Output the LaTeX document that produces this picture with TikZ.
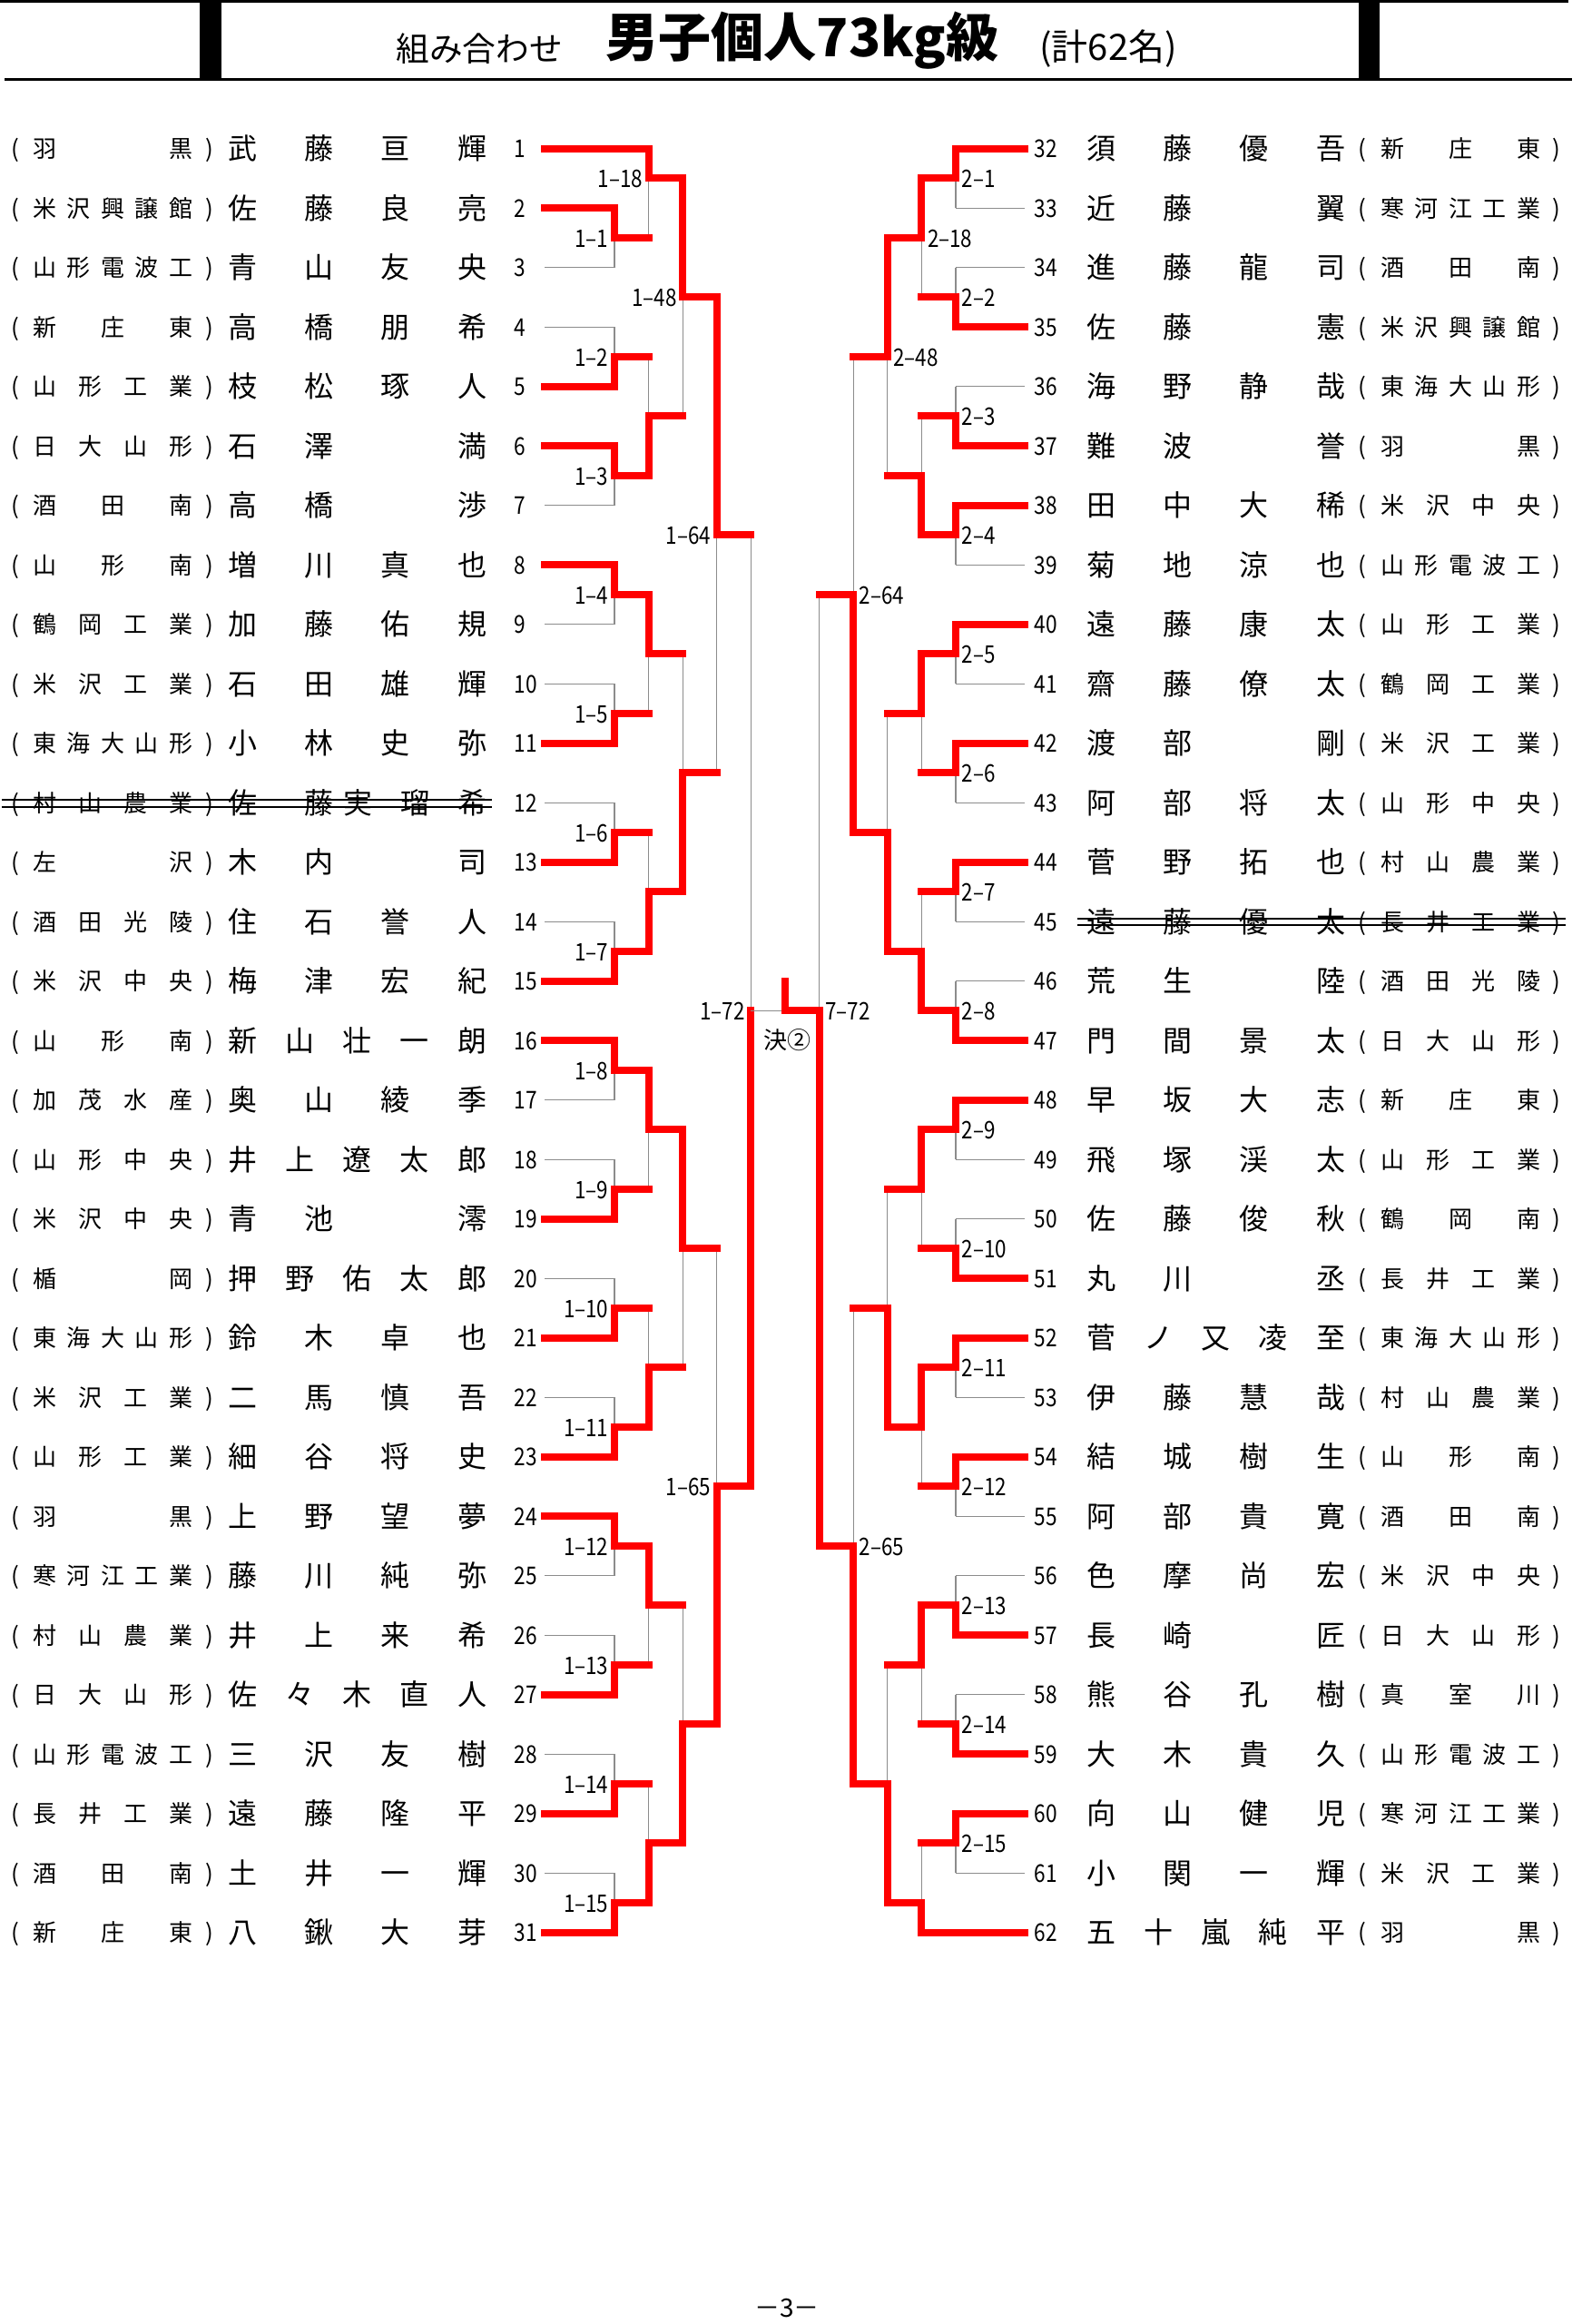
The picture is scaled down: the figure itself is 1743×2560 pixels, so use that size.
\documentclass[tikz,border=0pt]{standalone}
\usepackage{fontspec}
\newfontfamily\jp{Noto Sans CJK JP}
\newfontfamily\jpnarrow[FakeStretch=0.84]{Noto Sans CJK JP}
\definecolor{winred}{RGB}{255,0,0}
\definecolor{lossgray}{RGB}{140,140,140}

% place a list of characters evenly from x=#2 to x=#3
\newcommand\spreadrow[6]{%
  \def\nitems{0}%
  \foreach \ch in #1 {\pgfmathtruncatemacro\tmpn{\nitems+1}\global\let\nitems\tmpn}%
  \foreach \ch [count=\k] in #1 {%
    \pgfmathsetmacro\xx{#2+(#3-#2)*(\k-1)/(\nitems-1)}%
    \node[#5] (#6\k) at (\xx,{#4}) {\ch};}%
}

\tikzset{
  declare function={rowy(\q)=163.6+(\q-1)*65.5;},
  seg0/.style={draw=lossgray,line width=0.35pt},
  seg1/.style={draw=winred,line width=2.4pt,line cap=rect},
  strike/.style={line width=0.8pt},
  namech/.style={inner sep=0pt,font=\jp\fontsize{9.6}{11}\selectfont,text height=8.4pt,text depth=1.2pt},
  schch/.style={inner sep=0pt,font=\jp\fontsize{7.8}{9}\selectfont,text height=6.9pt,text depth=0.9pt},
  numtxt/.style={inner sep=0pt,font=\jpnarrow\fontsize{8.1}{9}\selectfont,text height=7.1pt,text depth=1pt},
  labtxt/.style={inner sep=0pt,font=\jpnarrow\fontsize{8}{9}\selectfont,text height=7pt,text depth=0.9pt}
}

\begin{document}
\begin{tikzpicture}[x=0.3pt,y=-0.3pt]
\useasboundingbox (0,0) rectangle (1743,2560);

% header
\fill (0,0) rectangle (1728,3);
\fill (5,86) rectangle (1732,89);
\fill (220,0) rectangle (244,88);
\fill (1497,0) rectangle (1520,88);
\node[inner sep=0pt,font=\jp\fontsize{11}{12}\selectfont] (ttl1) at (528,54) {組み合わせ};
\node[inner sep=0pt,font=\jp\bfseries\fontsize{17.4}{20}\selectfont] (ttl2) at (884,45) {男子個人73kg級};
\node[inner sep=0pt,font=\jp\fontsize{12}{13}\selectfont] (ttl3) at (1221,54) {(計62名)};

% entry points
\foreach \n in {1,...,31} \coordinate (L\n) at (600,{rowy(\n)});
\foreach \n in {32,...,62} \coordinate (R\n) at (1129,{rowy(\n-31)});

% match junctions: name/level/row
\foreach \m/\k/\jr in {a1/1/2.5,a18/2/1.5,a2/1/4.5,a3/1/6.5,a19/2/5.5,a48/3/3.5,
    a4/1/8.5,a5/1/10.5,a20/2/9.5,a6/1/12.5,a7/1/14.5,a21/2/13.5,a49/3/11.5,a64/4/7.5,
    a8/1/16.5,a9/1/18.5,a22/2/17.5,a10/1/20.5,a11/1/22.5,a23/2/21.5,a50/3/19.5,
    a12/1/24.5,a13/1/26.5,a24/2/25.5,a14/1/28.5,a15/1/30.5,a25/2/29.5,a51/3/27.5,
    a65/4/23.5,a72/5/15.5}
  \coordinate (\m) at ({865-37.6*(6-\k)},{rowy(\jr)});
\foreach \m/\k/\jr in {b1/1/1.5,b2/1/3.5,b18/2/2.5,b3/1/5.5,b4/1/7.5,b19/2/6.5,b48/3/4.5,
    b5/1/9.5,b6/1/11.5,b20/2/10.5,b7/1/13.5,b8/1/15.5,b21/2/14.5,b49/3/12.5,b64/4/8.5,
    b9/1/17.5,b10/1/19.5,b22/2/18.5,b11/1/21.5,b12/1/23.5,b23/2/22.5,b50/3/20.5,
    b13/1/25.5,b14/1/27.5,b24/2/26.5,b15/1/29.5,b25/2/30.5,b51/3/28.5,
    b65/4/24.5,b72/5/15.5}
  \coordinate (\m) at ({865+37.6*(6-\k)},{rowy(\jr)});

% bracket lines: match/winner/top is match/bottom is match/top/bottom
\foreach \pass in {0,1}{
  \ifnum\pass=1 \tikzset{cur/.style={seg1}}\else\tikzset{cur/.style={seg0}}\fi
  \foreach \m/\win/\ut/\ub/\ta/\ba in {a1/1/0/0/L2/L3,a18/1/0/1/L1/a1,a2/2/0/0/L4/L5,
      a3/1/0/0/L6/L7,a19/2/1/1/a2/a3,a48/1/1/1/a18/a19,a4/1/0/0/L8/L9,a5/2/0/0/L10/L11,
      a20/1/1/1/a4/a5,a6/2/0/0/L12/L13,a7/2/0/0/L14/L15,a21/2/1/1/a6/a7,a49/2/1/1/a20/a21,
      a64/1/1/1/a48/a49,a8/1/0/0/L16/L17,a9/2/0/0/L18/L19,a22/1/1/1/a8/a9,
      a10/2/0/0/L20/L21,a11/2/0/0/L22/L23,a23/2/1/1/a10/a11,a50/1/1/1/a22/a23,
      a12/1/0/0/L24/L25,a13/2/0/0/L26/L27,a24/1/1/1/a12/a13,a14/2/0/0/L28/L29,
      a15/2/0/0/L30/L31,a25/2/1/1/a14/a15,a51/2/1/1/a24/a25,a65/2/1/1/a50/a51,
      a72/2/1/1/a64/a65,
      b1/1/0/0/R32/R33,b2/2/0/0/R34/R35,b18/1/1/1/b1/b2,b3/2/0/0/R36/R37,
      b4/1/0/0/R38/R39,b19/2/1/1/b3/b4,b48/1/1/1/b18/b19,b5/1/0/0/R40/R41,
      b6/1/0/0/R42/R43,b20/1/1/1/b5/b6,b7/1/0/0/R44/R45,b8/2/0/0/R46/R47,
      b21/2/1/1/b7/b8,b49/2/1/1/b20/b21,b64/2/1/1/b48/b49,b9/1/0/0/R48/R49,
      b10/2/0/0/R50/R51,b22/1/1/1/b9/b10,b11/1/0/0/R52/R53,b12/1/0/0/R54/R55,
      b23/1/1/1/b11/b12,b50/2/1/1/b22/b23,b13/2/0/0/R56/R57,b14/2/0/0/R58/R59,
      b24/1/1/1/b13/b14,b15/1/0/0/R60/R61,b25/2/1/0/b15/R62,b51/2/1/1/b24/b25,
      b65/2/1/1/b50/b51,b72/2/1/1/b64/b65}{
    \pgfmathtruncatemacro\hT{or(\ut==1,\win==1)}
    \pgfmathtruncatemacro\hB{or(\ub==1,\win==2)}
    \pgfmathtruncatemacro\vT{\win==1}
    \pgfmathtruncatemacro\vB{\win==2}
    \ifnum\hT=\pass \draw[cur] (\ta) -- (\ta -| \m);\fi
    \ifnum\hB=\pass \draw[cur] (\ba) -- (\ba -| \m);\fi
    \ifnum\vT=\pass \draw[cur] (\ta -| \m) -- (\m);\fi
    \ifnum\vB=\pass \draw[cur] (\ba -| \m) -- (\m);\fi
  }
}

% final
\coordinate (fin) at (865,{rowy(15.5)});
\coordinate (champ) at (865,{rowy(15)});
\draw[seg0] (a72) -- (fin);
\draw[seg1] (b72) -- (fin) -- (champ);
\node[inner sep=0pt,font=\jp\fontsize{7.8}{9}\selectfont] (fname) at (867,1146) {決②};

% match labels
\foreach \n in {1,...,15,18,...,25,48,...,51,64,65,72}
  \node[labtxt,anchor=east] (la\n) at ([xshift=-1.8pt]a\n) {1–\n};
\foreach \n in {1,...,15,18,...,25,48,...,51,64,65}
  \node[labtxt,anchor=west] (lb\n) at ([xshift=1.8pt]b\n) {2–\n};
\node[labtxt,anchor=west] (lb72) at ([xshift=1.8pt]b72) {7–72};

% left entries
\foreach \n/\sch/\nam in {1/{羽,黒}/{武,藤,亘,輝},2/{米,沢,興,譲,館}/{佐,藤,良,亮},
    3/{山,形,電,波,工}/{青,山,友,央},4/{新,庄,東}/{高,橋,朋,希},
    5/{山,形,工,業}/{枝,松,琢,人},6/{日,大,山,形}/{石,澤,{},満},
    7/{酒,田,南}/{高,橋,{},渉},8/{山,形,南}/{増,川,真,也},
    9/{鶴,岡,工,業}/{加,藤,佑,規},10/{米,沢,工,業}/{石,田,雄,輝},
    11/{東,海,大,山,形}/{小,林,史,弥},13/{左,沢}/{木,内,{},司},
    14/{酒,田,光,陵}/{住,石,誉,人},15/{米,沢,中,央}/{梅,津,宏,紀},
    16/{山,形,南}/{新,山,壮,一,朗},17/{加,茂,水,産}/{奥,山,綾,季},
    18/{山,形,中,央}/{井,上,遼,太,郎},19/{米,沢,中,央}/{青,池,{},澪},
    20/{楯,岡}/{押,野,佑,太,郎},21/{東,海,大,山,形}/{鈴,木,卓,也},
    22/{米,沢,工,業}/{二,馬,慎,吾},23/{山,形,工,業}/{細,谷,将,史},
    24/{羽,黒}/{上,野,望,夢},25/{寒,河,江,工,業}/{藤,川,純,弥},
    26/{村,山,農,業}/{井,上,来,希},27/{日,大,山,形}/{佐,々,木,直,人},
    28/{山,形,電,波,工}/{三,沢,友,樹},29/{長,井,工,業}/{遠,藤,隆,平},
    30/{酒,田,南}/{土,井,一,輝},31/{新,庄,東}/{八,鍬,大,芽}}{
  \node[schch] (pl\n) at (17,{rowy(\n)}) {(};
  \spreadrow{\sch}{49}{199}{rowy(\n)}{schch}{s\n-}
  \node[schch] (pr\n) at (231,{rowy(\n)}) {)};
  \spreadrow{\nam}{267}{520}{rowy(\n)}{namech}{n\n-}
  \node[numtxt,anchor=west] (num\n) at (566,{rowy(\n)}) {\n};
}
\node[schch] (pl12) at (17,{rowy(12)}) {(};
\spreadrow{{村,山,農,業}}{49}{199}{rowy(12)}{schch}{s12-}
\node[schch] (pr12) at (231,{rowy(12)}) {)};
\foreach \ch/\xx [count=\k] in {佐/267,藤/351,実/394,瑠/457,希/520}
  \node[namech] (n12-\k) at (\xx,{rowy(12)}) {\ch};
\node[numtxt,anchor=west] (num12) at (566,{rowy(12)}) {12};
\draw[strike] (2,881) -- (542,881) (2,889) -- (542,889);

% right entries
\foreach \n/\nam/\sch in {32/{須,藤,優,吾}/{新,庄,東},33/{近,藤,{},翼}/{寒,河,江,工,業},
    34/{進,藤,龍,司}/{酒,田,南},35/{佐,藤,{},憲}/{米,沢,興,譲,館},
    36/{海,野,静,哉}/{東,海,大,山,形},37/{難,波,{},誉}/{羽,黒},
    38/{田,中,大,稀}/{米,沢,中,央},39/{菊,地,涼,也}/{山,形,電,波,工},
    40/{遠,藤,康,太}/{山,形,工,業},41/{齋,藤,僚,太}/{鶴,岡,工,業},
    42/{渡,部,{},剛}/{米,沢,工,業},43/{阿,部,将,太}/{山,形,中,央},
    44/{菅,野,拓,也}/{村,山,農,業},45/{遠,藤,優,太}/{長,井,工,業},
    46/{荒,生,{},陸}/{酒,田,光,陵},47/{門,間,景,太}/{日,大,山,形},
    48/{早,坂,大,志}/{新,庄,東},49/{飛,塚,渓,太}/{山,形,工,業},
    50/{佐,藤,俊,秋}/{鶴,岡,南},51/{丸,川,{},丞}/{長,井,工,業},
    52/{菅,ノ,又,凌,至}/{東,海,大,山,形},53/{伊,藤,慧,哉}/{村,山,農,業},
    54/{結,城,樹,生}/{山,形,南},55/{阿,部,貴,寛}/{酒,田,南},
    56/{色,摩,尚,宏}/{米,沢,中,央},57/{長,崎,{},匠}/{日,大,山,形},
    58/{熊,谷,孔,樹}/{真,室,川},59/{大,木,貴,久}/{山,形,電,波,工},
    60/{向,山,健,児}/{寒,河,江,工,業},61/{小,関,一,輝}/{米,沢,工,業},
    62/{五,十,嵐,純,平}/{羽,黒}}{
  \pgfmathtruncatemacro\rr{\n-31}
  \node[numtxt,anchor=west] (num\n) at (1139,{rowy(\rr)}) {\n};
  \spreadrow{\nam}{1213}{1466}{rowy(\rr)}{namech}{n\n-}
  \node[schch] (pl\n) at (1501,{rowy(\rr)}) {(};
  \spreadrow{\sch}{1534}{1684}{rowy(\rr)}{schch}{s\n-}
  \node[schch] (pr\n) at (1715,{rowy(\rr)}) {)};
}
\draw[strike] (1187,1012) -- (1725,1012) (1187,1019) -- (1725,1019);

% page number
\node[inner sep=0pt,font=\jp\fontsize{8.4}{10}\selectfont] (pg) at (867,2542) {－3－};
\end{tikzpicture}
\end{document}
